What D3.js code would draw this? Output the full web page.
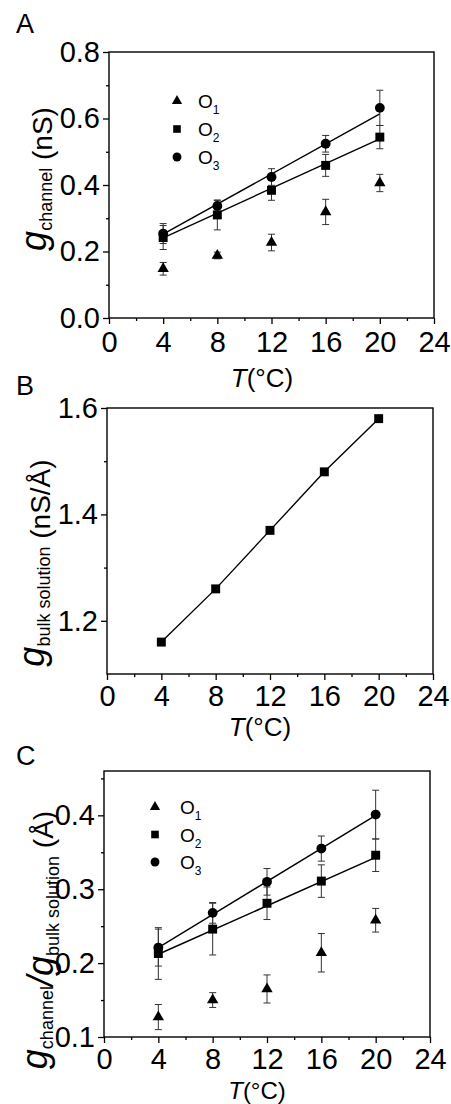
<!DOCTYPE html>
<html><head><meta charset="utf-8">
<script src="https://cdn.jsdelivr.net/npm/d3@7"></script>
<style>
html,body{margin:0;padding:0;background:#fff;}
text{font-family:"Liberation Sans",Arial,sans-serif;fill:#000;}
</style></head>
<body>
<svg id="chart" width="451" height="1104"></svg>
<script>
// ---------- data ----------
const temps = [4, 8, 12, 16, 20];
const xMajorTicks = [0, 4, 8, 12, 16, 20, 24];
const xMinorTicks = [2, 6, 10, 14, 18, 22];
const seriesNames = ["O1", "O2", "O3"];

// Panel A: g_channel (nS)
const gChanO1 = [0.148, 0.188, 0.227, 0.319, 0.406];
const gChanO1Err = [0.019, 0.010, 0.025, 0.038, 0.026];
const gChanO2 = [0.242, 0.310, 0.384, 0.459, 0.544];
const gChanO2Err = [0.036, 0.045, 0.030, 0.033, 0.035];
const gChanO3 = [0.254, 0.337, 0.424, 0.524, 0.632];
const gChanO3Err = [0.030, 0.016, 0.025, 0.025, 0.053];
const fitTemps = [4, 20];
const gChanFitO2 = [0.241, 0.539];
const gChanFitO3 = [0.252, 0.614];
const yTicksA = [0, 0.2, 0.4, 0.6, 0.8];
const yMinorA = [0.1, 0.3, 0.5, 0.7];

// Panel B: g_bulk solution (nS/Å)
const gBulk = [1.16, 1.26, 1.37, 1.48, 1.58];
const yTicksB = [1.2, 1.4, 1.6];
const yMinorB = [1.3, 1.5];

// Panel C: g_channel / g_bulk (Å)
const ratioO1 = [0.127, 0.150, 0.165, 0.214, 0.258];
const ratioO1Err = [0.017, 0.010, 0.019, 0.026, 0.016];
const ratioO2 = [0.213, 0.246, 0.281, 0.311, 0.346];
const ratioO2Err = [0.035, 0.035, 0.022, 0.022, 0.022];
const ratioO3 = [0.221, 0.268, 0.310, 0.355, 0.401];
const ratioO3Err = [0.025, 0.014, 0.018, 0.017, 0.033];
const ratioFitO2 = [0.212, 0.343];
const ratioFitO3 = [0.221, 0.400];
const yTicksC = [0.1, 0.2, 0.3, 0.4];
const yMinorC = [0.15, 0.25, 0.35, 0.45];

// ---------- drawing ----------
const svg = d3.select("#chart");
const symbols = {O1: d3.symbolTriangle, O2: d3.symbolSquare, O3: d3.symbolCircle};
const symSize = {O1: 56, O2: 80, O3: 76};
const legSize = {O1: 46, O2: 58, O3: 62};

function panel(cfg) {
  const g = svg.append("g");
  const x = d3.scaleLinear().domain([0, 24]).range([cfg.left, cfg.right]);
  const y = d3.scaleLinear().domain(cfg.yDomain).range([cfg.bottom, cfg.top]);

  // axes
  g.append("g").attr("transform", `translate(0,${cfg.bottom})`)
    .call(d3.axisBottom(x).tickValues(xMajorTicks).tickSize(6).tickPadding(cfg.xPad).tickFormat(d3.format("d")));
  g.append("g").attr("transform", `translate(0,${cfg.bottom})`)
    .call(d3.axisBottom(x).tickValues(xMinorTicks).tickSize(3).tickFormat(""));
  g.append("g").attr("transform", `translate(${cfg.left},0)`)
    .call(d3.axisLeft(y).tickValues(cfg.yTicks).tickSize(6).tickPadding(3).tickFormat(d3.format(".1f")));
  g.append("g").attr("transform", `translate(${cfg.left},0)`)
    .call(d3.axisLeft(y).tickValues(cfg.yMinor).tickSize(3).tickFormat(""));
  g.selectAll(".domain").remove();
  g.selectAll(".tick line").attr("stroke", "#000").attr("stroke-width", 1.3);
  g.selectAll(".tick text").attr("font-size", 29).attr("font-family", "Liberation Sans, Arial, sans-serif").attr("fill", "#000");

  // frame
  g.append("rect").attr("x", cfg.left).attr("y", cfg.top)
    .attr("width", cfg.right - cfg.left).attr("height", cfg.bottom - cfg.top)
    .attr("fill", "none").attr("stroke", "#000").attr("stroke-width", 1.4);

  // fit lines
  (cfg.lines || []).forEach(vals => {
    g.append("path").datum(vals)
      .attr("d", d3.line().x((d, i) => x(cfg.lineX[i])).y(d => y(d)))
      .attr("fill", "none").attr("stroke", "#000").attr("stroke-width", 1.4);
  });

  // error bars then markers
  cfg.series.forEach(s => {
    if (s.err) {
      s.vals.forEach((v, i) => {
        const cx = x(temps[i]);
        const e = s.err[i];
        g.append("line").attr("x1", cx).attr("x2", cx).attr("y1", y(v - e)).attr("y2", y(v + e))
          .attr("stroke", "#333").attr("stroke-width", 1);
        [v - e, v + e].forEach(ev => {
          g.append("line").attr("x1", cx - 3.5).attr("x2", cx + 3.5).attr("y1", y(ev)).attr("y2", y(ev))
            .attr("stroke", "#333").attr("stroke-width", 1);
        });
      });
    }
  });
  cfg.series.forEach(s => {
    g.selectAll(null).data(s.vals).enter().append("path")
      .attr("transform", (d, i) => `translate(${x(temps[i])},${y(d)})`)
      .attr("d", d3.symbol().type(symbols[s.name]).size(symSize[s.name]))
      .attr("fill", "#000");
  });

  // legend
  if (cfg.legend) {
    seriesNames.forEach((n, i) => {
      const ly = cfg.legend.y + i * cfg.legend.dy;
      g.append("path").attr("transform", `translate(${cfg.legend.x},${ly})`)
        .attr("d", d3.symbol().type(symbols[n]).size(legSize[n])).attr("fill", "#000");
      const t = g.append("text").attr("x", cfg.legend.x + cfg.legend.gap).attr("y", ly + 7)
        .attr("font-size", 19);
      t.append("tspan").text("O");
      t.append("tspan").attr("font-size", 12).attr("dy", 6).text(n.slice(1));
    });
  }

  // panel letter
  g.append("text").attr("x", 16).attr("y", cfg.letterY).attr("font-size", 27).text(cfg.letter);

  // x title
  const xt = g.append("text").attr("x", cfg.xTitleX).attr("y", cfg.bottom + cfg.xTitleDy)
    .attr("text-anchor", "middle").attr("font-size", cfg.xTitleSize);
  xt.append("tspan").attr("font-style", "italic").text("T");
  xt.append("tspan").text("(°C)");

  // y title
  const yt = g.append("text")
    .attr("transform", `translate(${cfg.yTitleX},${(cfg.top + cfg.bottom) / 2 + cfg.yTitleShift}) rotate(-90)`)
    .attr("text-anchor", "middle");
  cfg.yTitle(yt);
}

function addG(t, sub) {
  t.append("tspan").attr("font-style", "italic").attr("font-size", 36).text("g");
  t.append("tspan").attr("font-size", 18).attr("dy", 6).text(sub);
  t.append("tspan").attr("dy", -6).attr("font-size", 28).text("");
}

panel({
  letter: "A", letterY: 33,
  left: 109, right: 434, top: 52, bottom: 318,
  yDomain: [0, 0.8], yTicks: yTicksA, yMinor: yMinorA,
  series: [
    {name: "O1", vals: gChanO1, err: gChanO1Err},
    {name: "O2", vals: gChanO2, err: gChanO2Err},
    {name: "O3", vals: gChanO3, err: gChanO3Err}
  ],
  lines: [gChanFitO2, gChanFitO3], lineX: fitTemps,
  legend: {x: 177, y: 101, dy: 28, gap: 21},
  xPad: 7, xTitleX: 262, xTitleDy: 69, xTitleSize: 26,
  yTitleX: 46, yTitleShift: -6,
  yTitle: t => {
    addG(t, "channel");
    t.append("tspan").attr("font-size", 28).text(" (nS)");
  }
});

panel({
  letter: "B", letterY: 395,
  left: 107, right: 433, top: 408, bottom: 674,
  yDomain: [1.1, 1.6], yTicks: yTicksB, yMinor: yMinorB,
  series: [{name: "O2", vals: gBulk}],
  lines: [gBulk], lineX: temps,
  xPad: 5, xTitleX: 260, xTitleDy: 62, xTitleSize: 26,
  yTitleX: 44, yTitleShift: 22,
  yTitle: t => {
    addG(t, "bulk solution");
    t.append("tspan").attr("font-size", 28).text(" (nS/Å)");
  }
});

panel({
  letter: "C", letterY: 765,
  left: 104, right: 430, top: 771, bottom: 1037,
  yDomain: [0.1, 0.46], yTicks: yTicksC, yMinor: yMinorC,
  series: [
    {name: "O1", vals: ratioO1, err: ratioO1Err},
    {name: "O2", vals: ratioO2, err: ratioO2Err},
    {name: "O3", vals: ratioO3, err: ratioO3Err}
  ],
  lines: [ratioFitO2, ratioFitO3], lineX: fitTemps,
  legend: {x: 155, y: 807, dy: 27.5, gap: 25},
  xPad: 5, xTitleX: 257, xTitleDy: 62, xTitleSize: 24,
  yTitleX: 47, yTitleShift: 36,
  yTitle: t => {
    addG(t, "channel");
    t.append("tspan").attr("font-size", 36).attr("font-style", "italic").text("/");
    t.append("tspan").attr("font-style", "italic").attr("font-size", 36).text("g");
    t.append("tspan").attr("font-size", 18).attr("dy", 6).text("bulk solution");
    t.append("tspan").attr("dy", -6).attr("font-size", 28).text(" (Å)");
  }
});
</script>
</body></html>
